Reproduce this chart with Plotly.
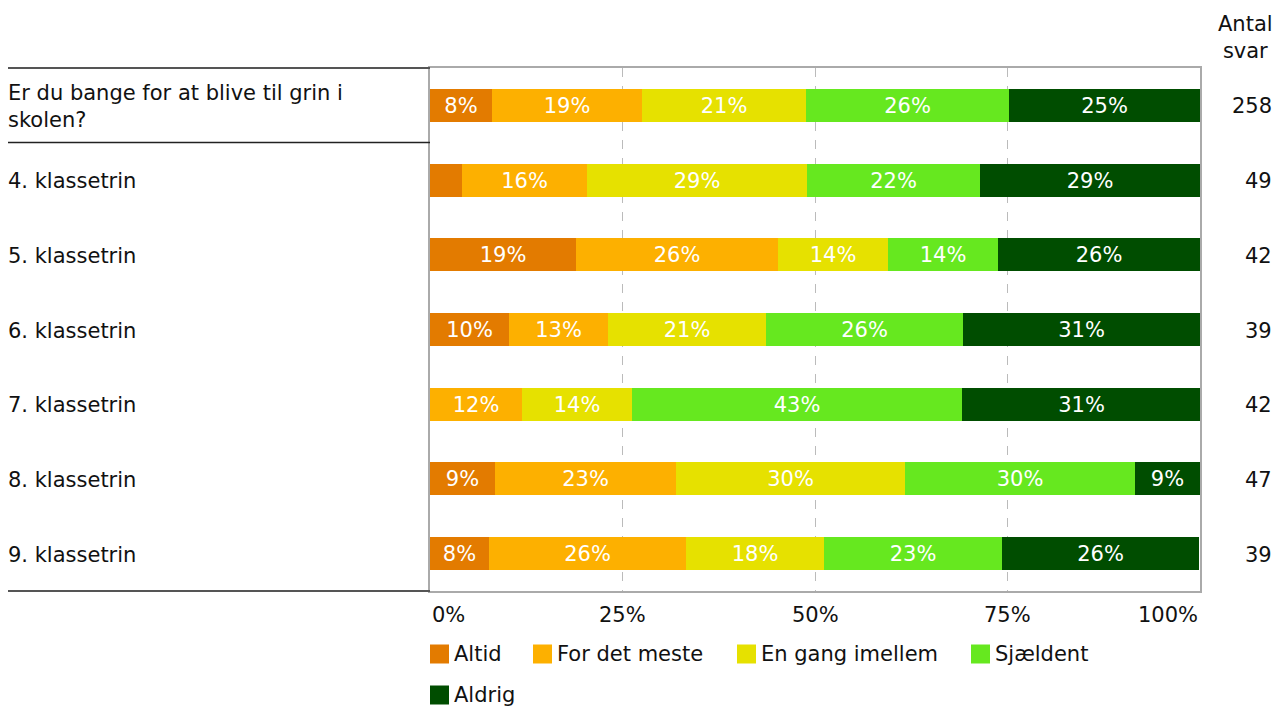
import plotly.graph_objects as go

categories = ["Er du bange for at blive til grin i<br>skolen?", "4. klassetrin", "5. klassetrin",
              "6. klassetrin", "7. klassetrin", "8. klassetrin", "9. klassetrin"]
series_names = ["Altid", "For det meste", "En gang imellem", "Sjældent", "Aldrig"]
colors = ["#E37B00", "#FDB000", "#E6E100", "#66E81F", "#004D00"]
altid = [8.1, 4.1, 19.0, 10.3, 0.0, 8.5, 7.7]
for_det_meste = [19.4, 16.3, 26.2, 12.8, 11.9, 23.4, 25.6]
en_gang = [21.3, 28.6, 14.3, 20.5, 14.3, 29.8, 17.9]
sjaeldent = [26.4, 22.4, 14.3, 25.6, 42.9, 29.8, 23.1]
aldrig = [24.8, 28.6, 26.2, 30.8, 31.0, 8.5, 25.6]
antal_svar = [258, 49, 42, 39, 42, 47, 39]
tick_vals = [0, 25, 50, 75, 100]
tick_text = ["0%", "25%", "50%", "75%", "100%"]

FONT = "Verdana, DejaVu Sans, sans-serif"
FS = 21
W, H = 1277, 708
L, T = 430, 68
R = W - 1200
B = H - 591
pw = W - L - R
ph = H - T - B


def px(xpix):
    return (xpix - L) / pw


def py(ypix):
    return 1 - (ypix - T) / ph


fig = go.Figure()
all_series = [altid, for_det_meste, en_gang, sjaeldent, aldrig]
ypos = list(range(len(categories)))
for name, vals, col in zip(series_names, all_series, colors):
    txt = [f"{int(v + 0.5)}%" if v >= 6 else "" for v in vals]
    fig.add_trace(go.Bar(
        x=vals, y=ypos, orientation="h", name=name, marker=dict(color=col, line=dict(width=0)),
        text=txt, textposition="inside", insidetextanchor="middle", constraintext="none",
        textfont=dict(color="white", size=FS, family=FONT), width=0.44, showlegend=False,
        hoverinfo="skip",
    ))

fig.update_layout(
    barmode="stack", width=W, height=H, margin=dict(l=L, r=R, t=T, b=B, pad=0),
    plot_bgcolor="white", paper_bgcolor="white", font=dict(family=FONT, size=FS, color="#111"),
    bargap=0,
    uniformtext=dict(minsize=FS, mode="show"),
)
fig.update_xaxes(range=[0, 100], tickvals=tick_vals, showticklabels=False, showgrid=True,
                 gridcolor="#bbbbbb", griddash="dash", gridwidth=1, zeroline=False,
                 showline=True, linecolor="#aaaaaa", linewidth=1.5, mirror=True, fixedrange=True)
fig.update_yaxes(range=[len(categories) - 0.5, -0.5], showticklabels=False, showgrid=False,
                 zeroline=False, showline=True, linecolor="#aaaaaa", linewidth=1.5, mirror=True,
                 fixedrange=True)

ann = []
for i, c in enumerate(categories):
    ann.append(dict(x=px(6), xref="paper", y=i, yref="y", yshift=-1, text=c, showarrow=False,
                    xanchor="left", yanchor="middle", align="left", font=dict(size=FS)))
    ann.append(dict(x=px(1274), xref="paper", y=i, yref="y", yshift=-1, text=str(antal_svar[i]),
                    showarrow=False, xanchor="right", yanchor="middle", font=dict(size=FS)))
ann.append(dict(x=px(1245), xref="paper", y=py(37), yref="paper", text="Antal<br>svar",
                showarrow=False, xanchor="center", yanchor="middle", align="center",
                font=dict(size=FS)))
for v, t in zip(tick_vals, tick_text):
    anchor = "left" if v == 0 else ("right" if v == 100 else "center")
    ann.append(dict(x=v, xref="x", y=py(615), yref="paper", text=t, showarrow=False,
                    xanchor=anchor, yanchor="middle", font=dict(size=FS)))

shapes = []
shapes.append(dict(type="line", xref="paper", yref="paper", x0=px(8), x1=px(430), y0=py(68), y1=py(68),
                   line=dict(color="#555555", width=2)))
shapes.append(dict(type="line", xref="paper", yref="paper", x0=px(8), x1=px(430), y0=py(142.5), y1=py(142.5),
                   line=dict(color="#222222", width=1.5)))
shapes.append(dict(type="line", xref="paper", yref="paper", x0=px(8), x1=px(430), y0=py(591), y1=py(591),
                   line=dict(color="#555555", width=2)))

legend_pos = [(430, 654), (533, 654), (737, 654), (971, 654), (430, 695)]
for (lx, ly), name, col in zip(legend_pos, series_names, colors):
    shapes.append(dict(type="rect", xref="paper", yref="paper", x0=px(lx), x1=px(lx + 19),
                       y0=py(ly - 9.5), y1=py(ly + 9.5), fillcolor=col, line=dict(width=0)))
    ann.append(dict(x=px(lx + 22), xref="paper", y=py(ly), yref="paper", text=name, showarrow=False,
                    xanchor="left", yanchor="middle", font=dict(size=FS)))

fig.update_layout(annotations=ann, shapes=shapes)
fig.write_html("out.html", config={"displayModeBar": False},
               post_script="document.body.style.margin='0';document.body.style.overflow='hidden';")
